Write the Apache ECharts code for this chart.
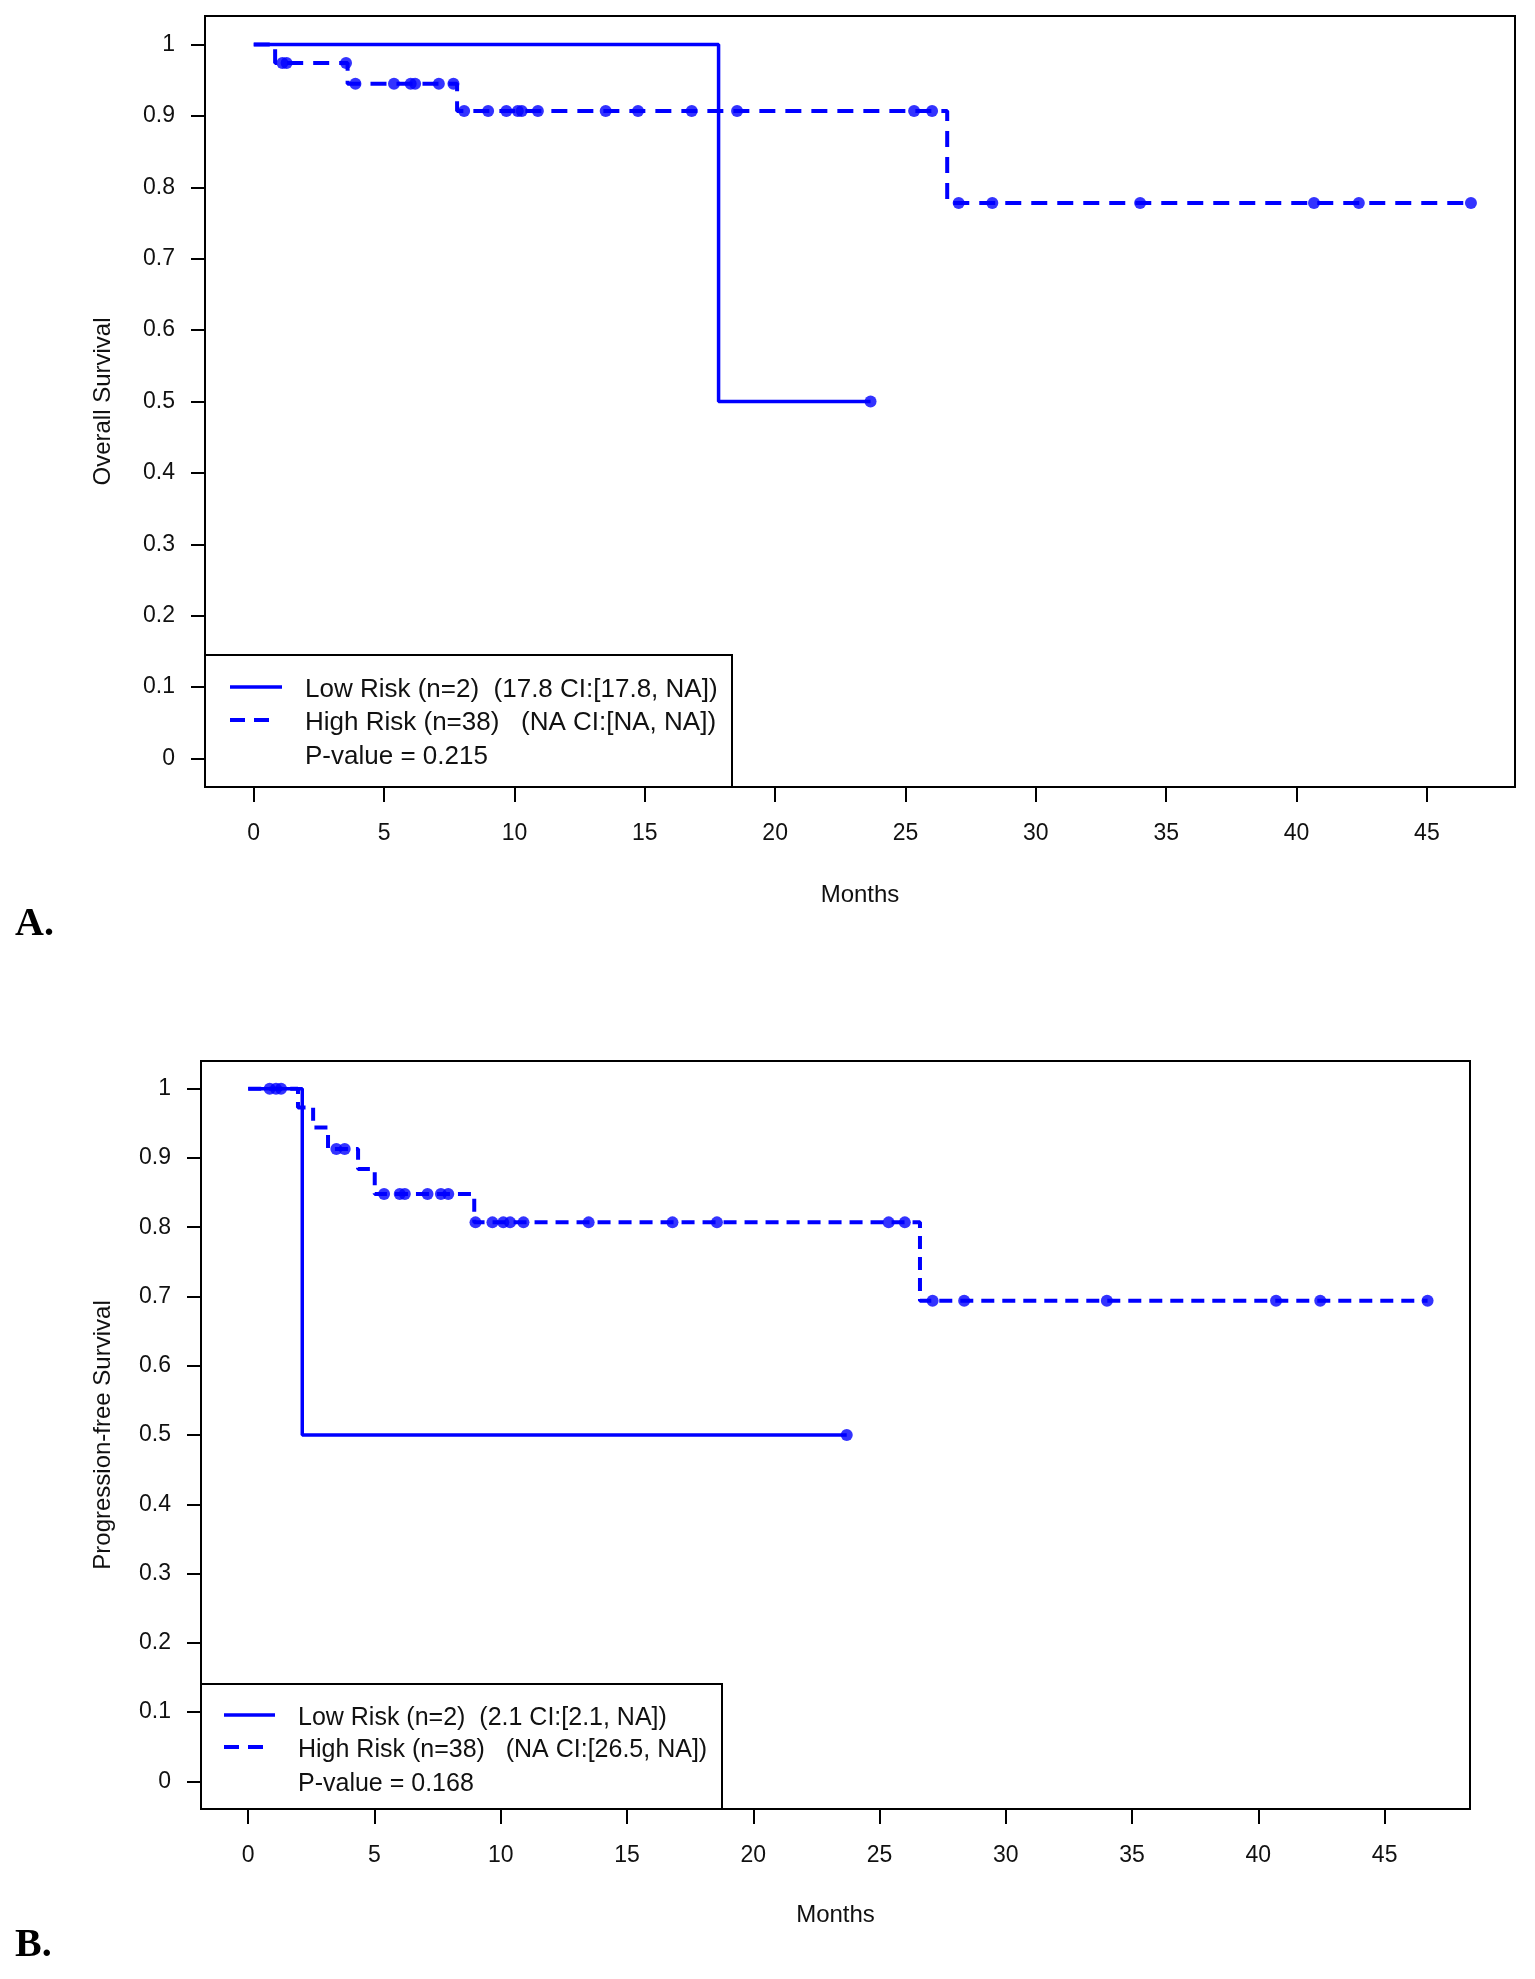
<!DOCTYPE html>
<html>
<head>
<meta charset="utf-8">
<title>Kaplan-Meier</title>
<script src="https://cdn.jsdelivr.net/npm/echarts@6/dist/echarts.min.js"></script>
<style>
  html, body { margin: 0; padding: 0; background: #fff; }
  #main { width: 1535px; height: 1979px; }
</style>
</head>
<body>
<div id="main"></div>
<script>
// ---- data ----
var xTicks = [0, 5, 10, 15, 20, 25, 30, 35, 40, 45];
var yTicks = [0, 0.1, 0.2, 0.3, 0.4, 0.5, 0.6, 0.7, 0.8, 0.9, 1];

// A. overall survival
var osLowTimes = [0, 17.83];
var osLowSurv = [1, 0.5];
var osLowEnd = 23.66;
var osLowCens = [23.66];

var osHighTimes = [0, 0.82, 3.6, 7.8, 26.6];
var osHighSurv = [1, 0.974, 0.945, 0.907, 0.778];
var osHighEnd = 46.69;
var osHighCens = [1.1, 1.26, 3.54, 3.9, 5.38, 6.02, 6.19, 7.1, 7.66, 8.07, 8.99, 9.69, 10.13, 10.28,
    10.9, 13.5, 14.74, 16.8, 18.54, 25.33, 26.02, 27.04, 28.33, 34.0, 40.67, 42.39, 46.69];

// B. progression-free survival
var pfsLowTimes = [0, 2.14];
var pfsLowSurv = [1, 0.5];
var pfsLowEnd = 23.7;
var pfsLowCens = [23.7];

var pfsHighTimes = [0, 1.97, 2.57, 3.16, 4.35, 5.01, 8.95, 26.6];
var pfsHighSurv = [1, 0.973, 0.944, 0.913, 0.884, 0.848, 0.807, 0.694];
var pfsHighEnd = 46.7;
var pfsHighCens = [0.85, 1.1, 1.3, 3.49, 3.82, 5.38, 6.0, 6.2, 7.1, 7.63, 7.92, 9.0, 9.67, 10.1,
    10.37, 10.9, 13.48, 16.8, 18.56, 25.36, 26.0, 27.1, 28.35, 34.0, 40.7, 42.45, 46.7];

var legendA = ['Low Risk (n=2)  (17.8 CI:[17.8, NA])', 'High Risk (n=38)   (NA CI:[NA, NA])', 'P-value = 0.215'];
var legendB = ['Low Risk (n=2)  (2.1 CI:[2.1, NA])', 'High Risk (n=38)   (NA CI:[26.5, NA])', 'P-value = 0.168'];

var BLUE = '#0000ff';
var FONT = '"Liberation Sans", Arial, sans-serif';

// step curve points, extended to the last follow-up time
function curve(times, surv, end) {
    var pts = [];
    for (var i = 0; i < times.length; i++) pts.push([times[i], surv[i]]);
    pts.push([end, surv[surv.length - 1]]);
    return pts;
}
// survival value of the curve at time t (for censor marks)
function survAt(times, surv, t) {
    var s = surv[0];
    for (var i = 0; i < times.length; i++) {
        if (times[i] <= t) s = surv[i];
    }
    return s;
}
function marks(times, surv, cens) {
    return cens.map(function (t) { return [t, survAt(times, surv, t)]; });
}

function xAxis(idx) {
    return {
        type: 'value', gridIndex: idx, min: -1.87, max: 48.38,
        axisLine: { show: false, onZero: false },
        splitLine: { show: false },
        axisTick: { show: true, customValues: xTicks, length: 15, lineStyle: { color: '#000', width: 2 } },
        axisLabel: { customValues: xTicks, margin: 35, color: '#111', fontSize: 23, fontFamily: FONT },
        name: 'Months', nameLocation: 'middle', nameGap: idx === 0 ? 96 : 94,
        nameTextStyle: { color: '#111', fontSize: 24, fontFamily: FONT }
    };
}
function yAxis(idx, name, gap) {
    return {
        type: 'value', gridIndex: idx, min: -0.04, max: 1.04,
        axisLine: { show: false, onZero: false },
        splitLine: { show: false },
        axisTick: { show: true, customValues: yTicks, length: 14, lineStyle: { color: '#000', width: 2 } },
        axisLabel: {
            customValues: yTicks, margin: 30, color: '#111', fontSize: 23, fontFamily: FONT,
            formatter: function (v) { return String(Math.round(v * 10) / 10); }
        },
        name: name, nameLocation: 'middle', nameRotate: 90, nameGap: gap,
        nameTextStyle: { color: '#111', fontSize: 24, fontFamily: FONT }
    };
}

function lineSeries(idx, data, dashed, dash) {
    return {
        type: 'line', xAxisIndex: idx, yAxisIndex: idx, step: 'end',
        data: data, showSymbol: false, silent: true, animation: false,
        lineStyle: { color: BLUE, width: dashed ? 4 : 3.5, type: dashed ? dash : 'solid' }
    };
}
function censSeries(idx, data) {
    return {
        type: 'scatter', xAxisIndex: idx, yAxisIndex: idx, data: data,
        symbol: 'circle', symbolSize: 12, silent: true, animation: false,
        itemStyle: { color: BLUE }
    };
}

function legendBox(box, sample, textX, rows, texts, size) {
    var g = [];
    g.push({
        type: 'rect', shape: { x: box[0], y: box[1], width: box[2], height: box[3] },
        style: { fill: '#fff', stroke: '#000', lineWidth: 2 }, z: 100
    });
    g.push({
        type: 'line', shape: { x1: sample[0], y1: rows[0] - 3, x2: sample[1], y2: rows[0] - 3 },
        style: { stroke: BLUE, lineWidth: 3.5 }, z: 101
    });
    g.push({
        type: 'line', shape: { x1: sample[0], y1: rows[1] - 3, x2: sample[1] - 12, y2: rows[1] - 3 },
        style: { stroke: BLUE, lineWidth: 4, lineDash: [15, 9] }, z: 101
    });
    for (var i = 0; i < 3; i++) {
        g.push({
            type: 'text', x: textX, y: rows[i], z: 101,
            style: { text: texts[i], fill: '#111', font: size + 'px ' + FONT, verticalAlign: 'middle' }
        });
    }
    return g;
}

var myChart = echarts.init(document.getElementById('main'), null, { renderer: 'canvas' });

var graphics = []
    .concat(legendBox([205, 655, 527, 132], [230, 282], 305, [690, 723, 757], legendA, 26))
    .concat(legendBox([201, 1684, 521, 125], [224, 275], 298, [1718, 1750, 1784], legendB, 25));
graphics.push({
    type: 'text', x: 15, y: 925, z: 101,
    style: { text: 'A.', fill: '#000', font: 'bold 40px "Liberation Serif", "Times New Roman", serif', verticalAlign: 'middle' }
});
graphics.push({
    type: 'text', x: 15, y: 1946, z: 101,
    style: { text: 'B.', fill: '#000', font: 'bold 40px "Liberation Serif", "Times New Roman", serif', verticalAlign: 'middle' }
});

var option = {
    backgroundColor: '#fff',
    animation: false,
    grid: [
        { left: 205, top: 16, width: 1310, height: 771, show: true, borderColor: '#000', borderWidth: 2, backgroundColor: 'transparent' },
        { left: 201, top: 1061, width: 1269, height: 748, show: true, borderColor: '#000', borderWidth: 2, backgroundColor: 'transparent' }
    ],
    xAxis: [xAxis(0), xAxis(1)],
    yAxis: [yAxis(0, 'Overall Survival', 90), yAxis(1, 'Progression-free Survival', 86)],
    series: [
        lineSeries(0, curve(osLowTimes, osLowSurv, osLowEnd), false),
        censSeries(0, marks(osLowTimes, osLowSurv, osLowCens)),
        lineSeries(0, curve(osHighTimes, osHighSurv, osHighEnd), true, [16, 10]),
        censSeries(0, marks(osHighTimes, osHighSurv, osHighCens)),
        lineSeries(1, curve(pfsLowTimes, pfsLowSurv, pfsLowEnd), false),
        censSeries(1, marks(pfsLowTimes, pfsLowSurv, pfsLowCens)),
        lineSeries(1, curve(pfsHighTimes, pfsHighSurv, pfsHighEnd), true, [13, 8]),
        censSeries(1, marks(pfsHighTimes, pfsHighSurv, pfsHighCens))
    ],
    graphic: graphics
};
myChart.setOption(option);
</script>
</body>
</html>
